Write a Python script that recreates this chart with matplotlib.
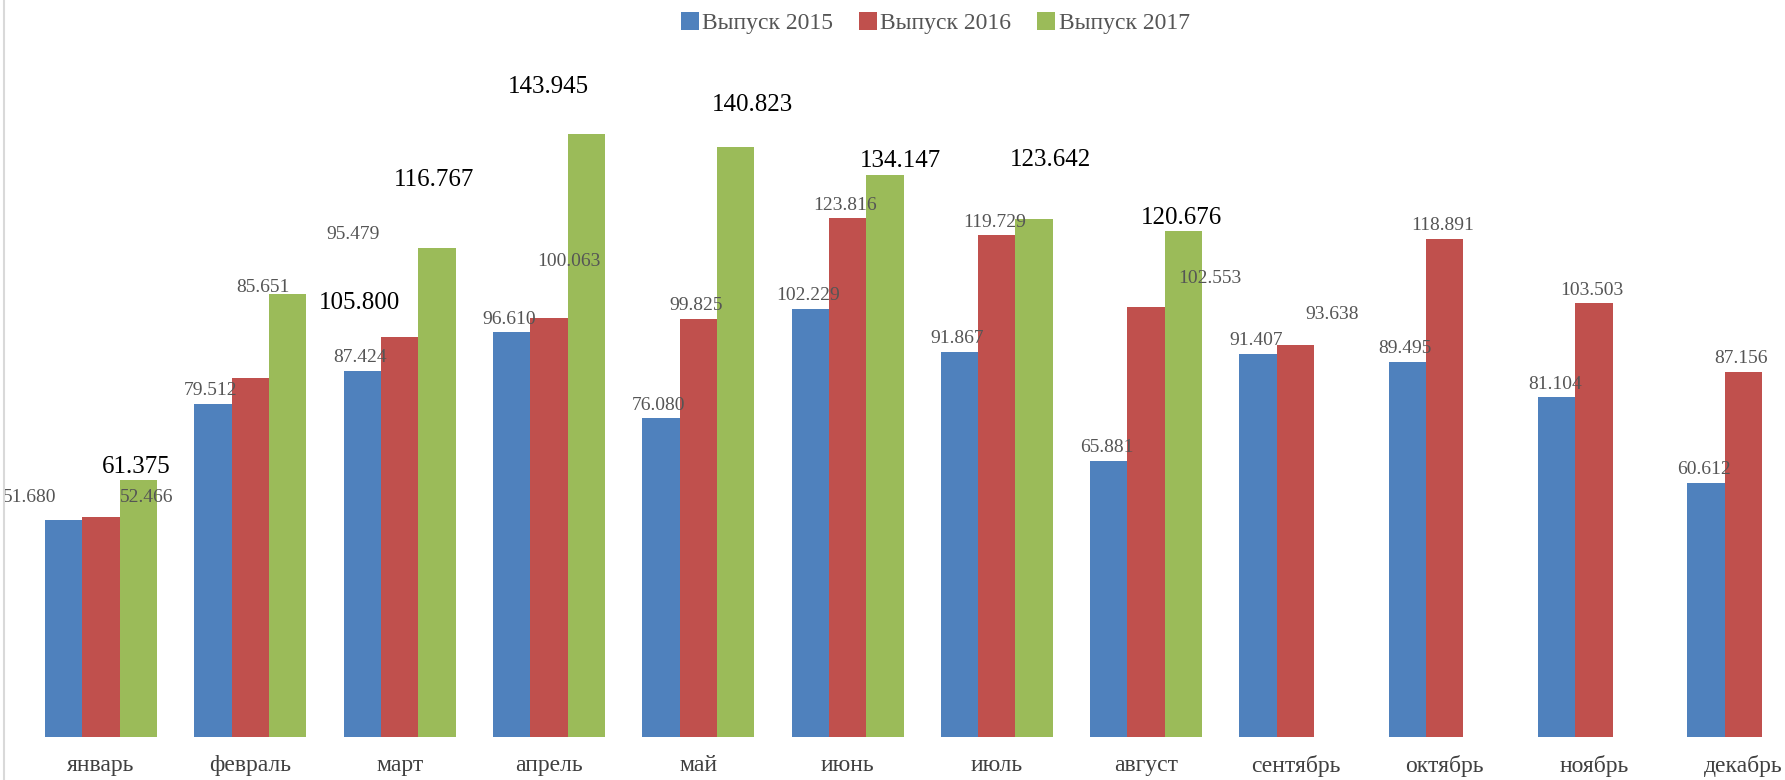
import numpy as np
import matplotlib.pyplot as plt
from matplotlib.lines import Line2D

months = ["январь", "февраль", "март", "апрель", "май", "июнь",
          "июль", "август", "сентябрь", "октябрь", "ноябрь", "декабрь"]
series_names = ["Выпуск 2015", "Выпуск 2016", "Выпуск 2017"]
vals_2015 = [51.680, 79.512, 87.424, 96.610, 76.080, 102.229,
             91.867, 65.881, 91.407, 89.495, 81.104, 60.612]
vals_2016 = [52.466, 85.651, 95.479, 100.063, 99.825, 123.816,
             119.729, 102.553, 93.638, 118.891, 103.503, 87.156]
# 2017 only goes to August
vals_2017 = [61.375, 105.800, 116.767, 143.945, 140.823, 134.147,
             123.642, 120.676]

colors = ["#4F81BD", "#C0504D", "#9BBB59"]

# labels that were dragged away from their bars in the original (pixels)
label_shift = {
    (0, 0): (-34, 23), (1, 0): (46, 19), (1, 1): (13, 90), (2, 1): (72, -9),
    (1, 2): (-47, 102), (2, 2): (-3, 68), (1, 3): (20, 56), (2, 3): (-38, 47),
    (2, 4): (17, 42), (2, 5): (16, 14), (2, 6): (16, 59), (1, 7): (64, 29),
    (1, 8): (37, 30),
}

fig = plt.figure(figsize=(17.85, 7.8), dpi=100)
ax = fig.add_axes([0, 0.0555, 1, 0.9445])

x = np.arange(len(months))
w = 0.25
series = [vals_2015, vals_2016, vals_2017]
for i, (vals, name, c) in enumerate(zip(series, series_names, colors)):
    xs = x[:len(vals)] + (i - 1) * w
    bars = ax.bar(xs, vals, w, color=c, label=name)
    for j, (b, v) in enumerate(zip(bars, vals)):
        dx, dy = label_shift.get((i, j), (-2, 13))
        big = i == 2
        ax.annotate(f"{v:.3f}", (b.get_x() + b.get_width() / 2, v),
                    xytext=(dx, dy), textcoords='offset pixels',
                    ha='center', va='center', zorder=5,
                    fontsize=18 if big else 14,
                    color='black' if big else '#555555',
                    family='Liberation Serif')

ax.set_xlim(-0.6765, 11.279)
ax.set_ylim(0, 175.9)
ax.set_xticks(x, months, family='Liberation Serif')
ax.tick_params(axis='x', length=0, pad=13, labelsize=17, labelcolor='#404040')
ax.set_yticks([])
for s in ax.spines.values():
    s.set_visible(False)

fig.legend(loc='center', bbox_to_anchor=(0.524, 0.97), ncol=3, frameon=False,
           handlelength=0.75, handleheight=0.75, handletextpad=0.15,
           columnspacing=1.1, labelcolor='#555555',
           prop={'family': 'Liberation Serif', 'size': 17})

# faint frame edge on the left
fig.add_artist(Line2D([0.002, 0.002], [0, 1], color='#d9d9d9', lw=1.5))

fig.savefig("out.png", dpi=100)
